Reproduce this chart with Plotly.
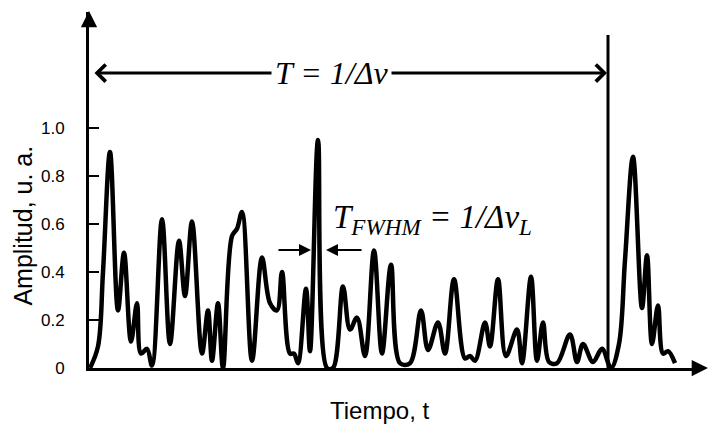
import plotly.graph_objects as go

# Time positions (arbitrary units) and amplitude readings of the pulse train
t = [1, 9, 14, 21, 29, 35, 42, 48, 52, 58, 63, 73, 81, 90, 96, 103, 113, 119, 123, 129, 134,
     143, 148, 153, 163, 173, 181, 188, 193, 201, 205, 209, 217, 221, 229, 238, 244, 254, 261,
     268, 276, 285, 293, 302, 311, 321, 332, 339, 349, 356, 365, 376, 381, 386, 396, 401, 409,
     417, 428, 433, 442, 448, 454, 460, 468, 481, 488, 494, 504, 513, 522, 530, 536, 544, 553,
     558, 563, 569, 574, 579, 586]
amp = [0.0, 0.09, 0.40, 0.90, 0.24, 0.48, 0.11, 0.27, 0.06, 0.08, 0.01, 0.62, 0.10, 0.53, 0.30,
       0.61, 0.06, 0.24, 0.03, 0.27, 0.0, 0.55, 0.58, 0.65, 0.03, 0.46, 0.27, 0.24, 0.40, 0.06,
       0.06, 0.02, 0.33, 0.07, 0.95, 0.0, 0.0, 0.34, 0.16, 0.21, 0.05, 0.49, 0.06, 0.43, 0.02,
       0.02, 0.24, 0.075, 0.19, 0.06, 0.37, 0.04, 0.05, 0.03, 0.19, 0.09, 0.37, 0.05, 0.16, 0.02,
       0.38, 0.03, 0.19, 0.025, 0.02, 0.14, 0.025, 0.10, 0.025, 0.08, 0.0, 0.10, 0.45, 0.88,
       0.25, 0.47, 0.10, 0.26, 0.06, 0.07, 0.02]

y_ticks = [0, 0.2, 0.4, 0.6, 0.8, 1.0]
y_tick_text = ["0", "0.2", "0.4", "0.6", "0.8", "1.0"]

period_end = 519          # end of the period T
period_level = 1.229      # height of the T arrow
period_line_top = 1.3875
fwhm_level = 0.492
fwhm_left = (188, 222)
fwhm_right = (274, 237)

fig = go.Figure()
fig.add_trace(go.Scatter(x=t, y=amp, mode="lines",
                         line=dict(color="black", width=4.5, shape="spline", smoothing=1.0),
                         showlegend=False, hoverinfo="skip"))

fig.add_shape(type="line", xref="x", yref="y", x0=period_end, x1=period_end,
              y0=0, y1=period_line_top, line=dict(color="black", width=3))

serif = "Liberation Serif, Times New Roman, serif"
sans = "Liberation Sans, Arial, sans-serif"

ann = []
# double headed period arrow
ann.append(dict(x=period_end - 1, y=period_level, ax=4, ay=period_level, xref="x", yref="y",
                axref="x", ayref="y", showarrow=True, arrowhead=4, startarrowhead=4,
                arrowside="end+start", arrowsize=1.1, startarrowsize=1.1, arrowwidth=3,
                arrowcolor="black", text=""))
ann.append(dict(x=242, y=period_level, xref="x", yref="y", showarrow=False,
                xanchor="center", yanchor="middle",
                text="<i>T = 1/Δν</i>", font=dict(family=serif, size=32, color="black"),
                bgcolor="white", borderpad=3))
# FWHM arrows
ann.append(dict(x=fwhm_left[1], y=fwhm_level, ax=fwhm_left[0], ay=fwhm_level, xref="x", yref="y",
                axref="x", ayref="y", showarrow=True, arrowhead=2, arrowsize=1.2, arrowwidth=2,
                arrowcolor="black", text=""))
ann.append(dict(x=fwhm_right[1], y=fwhm_level, ax=fwhm_right[0], ay=fwhm_level, xref="x", yref="y",
                axref="x", ayref="y", showarrow=True, arrowhead=2, arrowsize=1.2, arrowwidth=2,
                arrowcolor="black", text=""))
ann.append(dict(x=242, y=0.62, xref="x", yref="y", xanchor="left", yanchor="middle",
                showarrow=False,
                text="<i>T<sub>FWHM</sub> = 1/Δν<sub>L</sub></i>",
                font=dict(family=serif, size=33, color="black")))
# axis arrowheads
ann.append(dict(x=1.013, y=0, xref="paper", yref="paper", ax=-16, ay=0, showarrow=True,
                arrowhead=2, arrowsize=1.3, arrowwidth=2.5, arrowcolor="black", text=""))
ann.append(dict(x=0, y=1.003, xref="paper", yref="paper", ax=0, ay=16, showarrow=True,
                arrowhead=2, arrowsize=1.3, arrowwidth=2.5, arrowcolor="black", text=""))
# axis titles
ann.append(dict(x=-0.108, y=0.40, xref="paper", yref="paper", showarrow=False, textangle=-90,
                xanchor="center", yanchor="middle",
                text="Amplitud, u. a.", font=dict(family=sans, size=25, color="black")))
ann.append(dict(x=0.475, y=-0.12, xref="paper", yref="paper", showarrow=False,
                xanchor="center", yanchor="middle",
                text="Tiempo, t", font=dict(family=sans, size=24, color="black")))

fig.update_layout(
    width=710, height=431,
    margin=dict(l=89, r=10, t=12, b=63),
    paper_bgcolor="white", plot_bgcolor="white",
    annotations=ann,
    xaxis=dict(range=[0, 611], showline=True, linewidth=3, linecolor="black",
               showticklabels=False, ticks="", showgrid=False, zeroline=False),
    yaxis=dict(range=[0, 1.4833], showline=True, linewidth=3, linecolor="black",
               ticks="inside", ticklen=10, tickwidth=1.5, tickcolor="black",
               tickvals=y_ticks, ticktext=y_tick_text, ticklabelstandoff=18,
               tickfont=dict(family=sans, size=17, color="black"),
               showgrid=False, zeroline=False),
)

fig.write_html("out.html")
